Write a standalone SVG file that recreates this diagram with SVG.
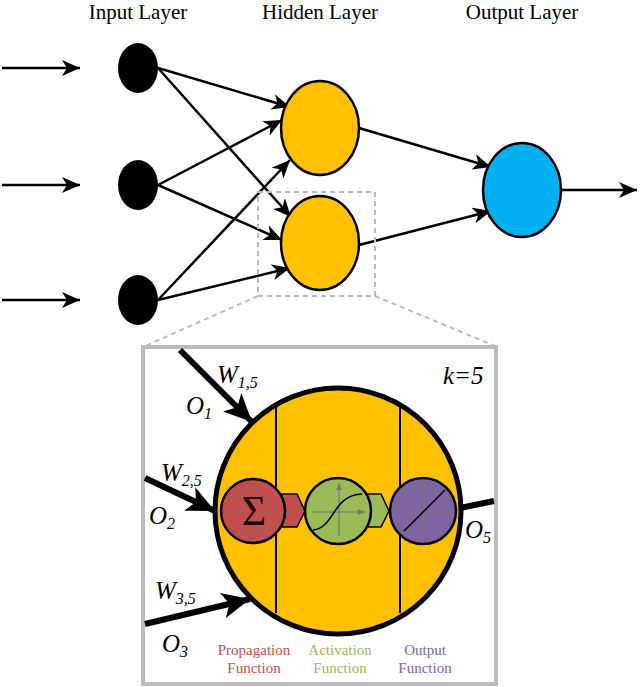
<svg xmlns="http://www.w3.org/2000/svg" width="640" height="687" viewBox="0 0 640 687">
<defs>
<marker id="ah" markerUnits="userSpaceOnUse" markerWidth="20" markerHeight="16" refX="18" refY="8" orient="auto"><path d="M0,0 L18,8 L0,16 L5,8 Z" fill="#000"/></marker>
<marker id="ab" markerUnits="userSpaceOnUse" markerWidth="30" markerHeight="26" refX="28" refY="13" orient="auto"><path d="M0,0 L28,13 L0,26 L7,13 Z" fill="#000"/></marker>
<marker id="ag" markerUnits="userSpaceOnUse" markerWidth="8" markerHeight="6" refX="7" refY="3" orient="auto"><path d="M0,0 L7,3 L0,6 Z" fill="#777"/></marker>
</defs>
<style>
.t{font-family:'Liberation Serif',serif;font-size:21px;fill:#000;text-anchor:middle}
.e{stroke:#000;stroke-width:2.5;fill:none;marker-end:url(#ah)}
.b{stroke:#000;stroke-width:6;fill:none;marker-end:url(#ab)}
.i{font-family:'Liberation Serif',serif;font-style:italic;font-size:25px;fill:#000}
.s{font-size:16px}
.f{font-family:'Liberation Serif',serif;font-size:15px;text-anchor:middle}
.d{stroke:#bbb;stroke-width:2;stroke-dasharray:5,4;fill:none}
</style>
<text class="t" x="138" y="19">Input Layer</text>
<text class="t" x="320" y="19">Hidden Layer</text>
<text class="t" x="522" y="19">Output Layer</text>
<g id="connectors">
<line class="e" x1="2" y1="68" x2="80" y2="68"/>
<line class="e" x1="2" y1="185" x2="80" y2="185"/>
<line class="e" x1="2" y1="300" x2="80" y2="300"/>
<line class="e" x1="158" y1="68" x2="290" y2="107"/>
<line class="e" x1="158" y1="68" x2="291" y2="217"/>
<line class="e" x1="158" y1="185" x2="282" y2="120"/>
<line class="e" x1="158" y1="185" x2="282" y2="240"/>
<line class="e" x1="158" y1="300" x2="290" y2="160"/>
<line class="e" x1="158" y1="300" x2="290" y2="268"/>
<line class="e" x1="359" y1="128" x2="491" y2="167"/>
<line class="e" x1="359" y1="245" x2="491" y2="211"/>
<line class="e" x1="561" y1="190" x2="637" y2="190"/>
</g>
<g id="in1"><ellipse cx="138" cy="68" rx="20" ry="25" fill="#000"/></g>
<g id="in2"><ellipse cx="138" cy="185" rx="20" ry="25" fill="#000"/></g>
<g id="in3"><ellipse cx="138" cy="300" rx="20" ry="25" fill="#000"/></g>
<g id="h1"><ellipse cx="320" cy="128" rx="39" ry="47" fill="#FFC000" stroke="#000" stroke-width="2.5"/></g>
<g id="h2"><ellipse cx="320" cy="243" rx="39" ry="47" fill="#FFC000" stroke="#000" stroke-width="2.5"/></g>
<g id="out"><ellipse cx="522" cy="190" rx="39" ry="47" fill="#00B0F0" stroke="#000" stroke-width="2.5"/></g>
<g id="zoom">
<rect class="d" x="258" y="192" width="117" height="104"/>
<line class="d" x1="258" y1="296" x2="145" y2="346"/>
<line class="d" x1="375" y1="296" x2="495" y2="346"/>
<rect x="143" y="347" width="353" height="337" fill="#fff" stroke="#bbb" stroke-width="4"/>
</g>
<g id="neuron">
<line class="b" x1="180" y1="350" x2="252" y2="422"/>
<line class="b" x1="145" y1="478" x2="215" y2="511"/>
<line class="b" x1="145" y1="624" x2="250" y2="599"/>
<line x1="460" y1="508" x2="494" y2="501" stroke="#000" stroke-width="6"/>
<circle cx="338" cy="511" r="123" fill="#FFC000" stroke="#000" stroke-width="5"/>
<line x1="276" y1="404" x2="276" y2="613" stroke="#000" stroke-width="2"/>
<line x1="400" y1="404" x2="400" y2="613" stroke="#000" stroke-width="2"/>
<path d="M282,494 L297,494 L305,511 L297,527 L282,527 Z" fill="#C0504D" stroke="#000" stroke-width="1.5"/>
<path d="M366,494 L381,494 L389,511 L381,527 L366,527 Z" fill="#9BBB59" stroke="#000" stroke-width="1.5"/>
<circle cx="253" cy="511" r="32" fill="#C0504D" stroke="#000" stroke-width="2.5"/>
<text x="254" y="525" font-family="'Liberation Serif',serif" font-size="42" text-anchor="middle" fill="#200">Σ</text>
<circle cx="338" cy="511" r="33" fill="#9BBB59" stroke="#000" stroke-width="2.5"/>
<line x1="313" y1="512" x2="365" y2="512" stroke="#777" stroke-width="1.2" marker-end="url(#ag)"/>
<line x1="339" y1="536" x2="339" y2="483" stroke="#777" stroke-width="1.2" marker-end="url(#ag)"/>
<path d="M313,530 C335,528 332,495 362,494" stroke="#000" stroke-width="1.5" fill="none"/>
<circle cx="423" cy="511" r="33" fill="#8064A2" stroke="#000" stroke-width="2.5"/>
<line x1="399" y1="512" x2="451" y2="512" stroke="#777" stroke-width="1.2" marker-end="url(#ag)"/>
<line x1="424" y1="536" x2="424" y2="483" stroke="#777" stroke-width="1.2" marker-end="url(#ag)"/>
<line x1="404" y1="531" x2="445" y2="490" stroke="#000" stroke-width="1.5"/>
<text class="i" x="217" y="383">W<tspan class="s" dy="5">1,5</tspan></text>
<text class="i" x="186" y="414">O<tspan class="s" dy="5">1</tspan></text>
<text class="i" x="161" y="481">W<tspan class="s" dy="5">2,5</tspan></text>
<text class="i" x="149" y="524">O<tspan class="s" dy="5">2</tspan></text>
<text class="i" x="155" y="599">W<tspan class="s" dy="5">3,5</tspan></text>
<text class="i" x="162" y="652">O<tspan class="s" dy="5">3</tspan></text>
<text class="i" x="465" y="538">O<tspan class="s" dy="5">5</tspan></text>
<text class="i" x="443" y="384">k=5</text>
<text class="f" x="254" y="655" fill="#C0504D">Propagation</text>
<text class="f" x="254" y="673" fill="#C0504D">Function</text>
<text class="f" x="340" y="655" fill="#9BBB59">Activation</text>
<text class="f" x="340" y="673" fill="#9BBB59">Function</text>
<text class="f" x="425" y="655" fill="#8064A2">Output</text>
<text class="f" x="425" y="673" fill="#8064A2">Function</text>
</g>
</svg>
